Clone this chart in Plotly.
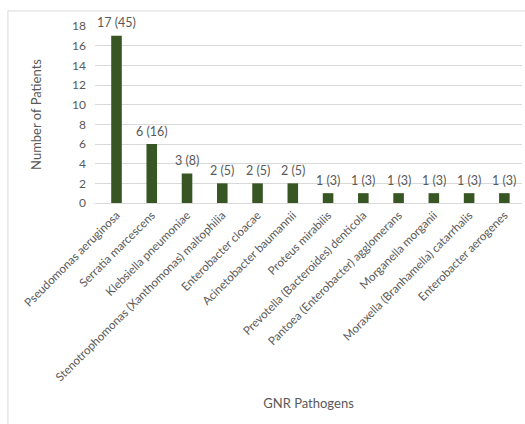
import plotly.graph_objects as go

pathogens = [
    "Pseudomonas aeruginosa",
    "Serratia marcescens",
    "Klebsiella pneumoniae",
    "Stenotrophomonas (Xanthomonas) maltophilia",
    "Enterobacter cloacae",
    "Acinetobacter baumannii",
    "Proteus mirabilis",
    "Prevotella (Bacteroides) denticola",
    "Pantoea (Enterobacter) agglomerans",
    "Morganella morganii",
    "Moraxella (Branhamella) catarrhalis",
    "Enterobacter aerogenes",
]
patients = [17, 6, 3, 2, 2, 2, 1, 1, 1, 1, 1, 1]
percents = [45, 16, 8, 5, 5, 5, 3, 3, 3, 3, 3, 3]
labels = [f"{n} ({p})" for n, p in zip(patients, percents)]
y_ticks = [0, 2, 4, 6, 8, 10, 12, 14, 16, 18]

FONT = "Lato"
GREY = "#595959"

fig = go.Figure(
    go.Bar(
        x=pathogens,
        y=patients,
        marker=dict(color="#375623", line=dict(width=0)),
        hovertext=labels,
    )
)

for cat, val, lab in zip(pathogens, patients, labels):
    fig.add_annotation(
        x=cat, y=val, text=lab, showarrow=False,
        xref="x", yref="y", yanchor="middle", yshift=13,
        font=dict(family=FONT, size=12.5, color=GREY),
    )

fig.update_layout(
    width=525,
    height=424,
    margin=dict(l=95, r=3, t=26, b=221),
    paper_bgcolor="white",
    plot_bgcolor="white",
    bargap=0.7,
    showlegend=False,
    font=dict(family=FONT, size=12, color=GREY),
    shapes=[
        dict(type="rect", xref="paper", yref="paper",
             x0=-0.204, x1=1.05, y0=-1.3, y1=1.085,
             line=dict(color="#d9d9d9", width=1), layer="below"),
    ],
)

fig.update_xaxes(
    automargin=False,
    tickangle=-45,
    tickfont=dict(family=FONT, size=11.6, color=GREY),
    showline=True,
    linecolor="#d9d9d9",
    linewidth=1,
    ticks="",
    title=dict(text="GNR Pathogens", font=dict(family=FONT, size=13, color=GREY), standoff=16),
)
fig.update_yaxes(
    automargin=False,
    range=[0, 18],
    tickvals=y_ticks,
    showgrid=True,
    gridcolor="#d9d9d9",
    gridwidth=1,
    zeroline=False,
    ticks="",
    ticklabelstandoff=8,
    tickfont=dict(family=FONT, size=12, color=GREY),
    title=dict(text="Number of Patients", font=dict(family=FONT, size=13, color=GREY), standoff=27),
)

fig.write_html(
    "out.html",
    config={"displayModeBar": False},
    post_script="document.body.style.margin='0';",
)
